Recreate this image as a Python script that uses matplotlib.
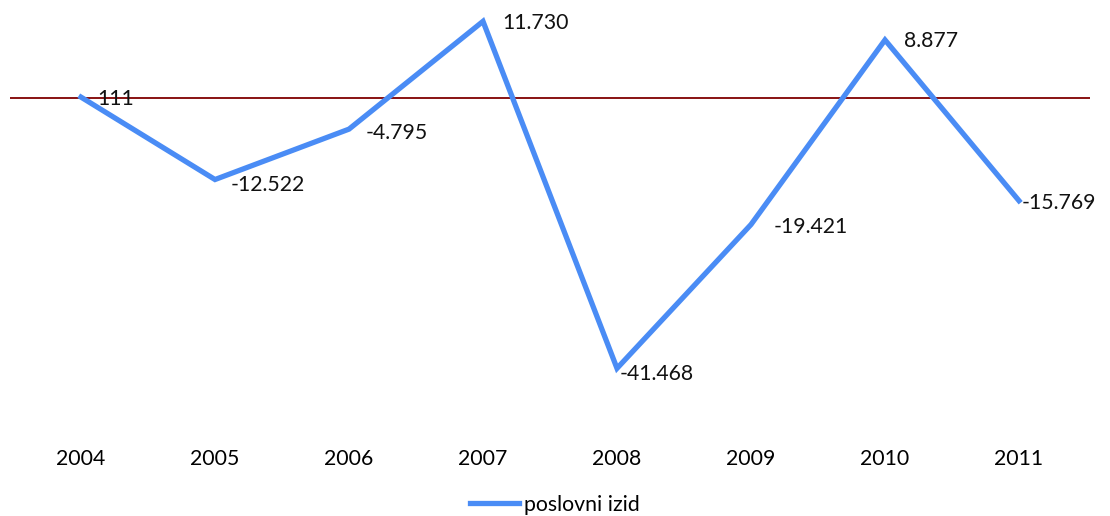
import matplotlib.pyplot as plt

years = ['2004', '2005', '2006', '2007', '2008', '2009', '2010', '2011']
poslovni_izid = [111, -12522, -4795, 11730, -41468, -19421, 8877, -15769]

# label offsets in points (right of each point, a bit lower)
label_dx = [12, 11, 12, 14, 2, 16, 14, 2]
label_dy = [-1, -4, -3, -1, -4, -2, -1, -2]

plt.rcParams['font.family'] = ['Lato', 'DejaVu Sans']
fs = 15.3

fig = plt.figure(figsize=(11.1, 5.16), dpi=100)
ax = fig.add_axes([10 / 1110, 1 - 424 / 516, 1080 / 1110, 424 / 516])

x = range(len(years))
ax.axhline(0, color='#7f0000', linewidth=1.3, zorder=1)
ax.plot(x, poslovni_izid, color='#4a8cf5', linewidth=3.8, label='poslovni izid',
        solid_joinstyle='miter', zorder=2)

for i, v in enumerate(poslovni_izid):
    txt = f'{v:,}'.replace(',', '.')
    ax.annotate(txt, (i, v), xytext=(label_dx[i], label_dy[i]), textcoords='offset points',
                ha='left', va='center', fontsize=fs, color='#111111', zorder=3)

ax.set_xlim(-0.53, 7.53)
ax.set_ylim(-50000, 15000)
ax.set_xticks(list(x))
ax.set_xticklabels(years, fontsize=fs)
ax.tick_params(axis='x', length=0, pad=18)
ax.set_yticks([])
for s in ax.spines.values():
    s.set_visible(False)

fig.legend(loc='lower center', bbox_to_anchor=(0.5, -0.035), frameon=False,
           fontsize=fs, handlelength=2.3, handletextpad=0.25)

fig.savefig('out.png', dpi=100)
